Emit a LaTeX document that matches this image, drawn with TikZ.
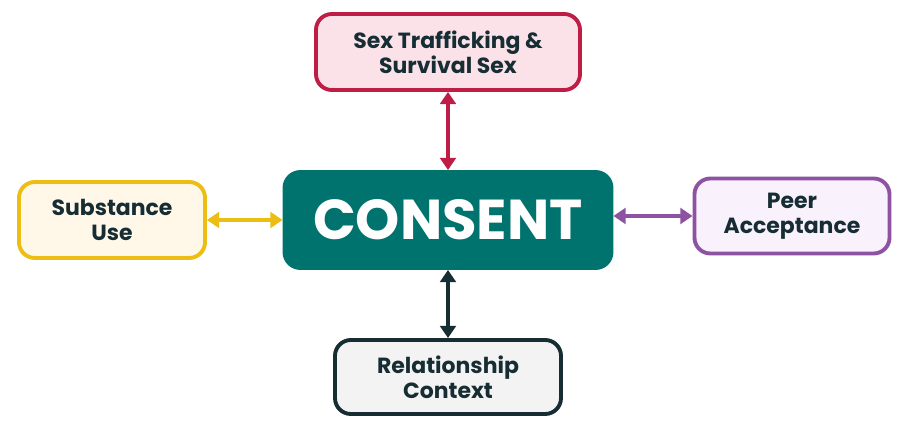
\documentclass[tikz,border=0pt]{standalone}
\usepackage{fontspec}
\setmainfont{Poppins}
\usetikzlibrary{arrows.meta, positioning}
\definecolor{teal1}{RGB}{0,115,110}
\definecolor{crim}{RGB}{190,30,70}
\definecolor{crimbg}{RGB}{251,226,233}
\definecolor{gold}{RGB}{236,190,20}
\definecolor{goldbg}{RGB}{255,248,232}
\definecolor{purp}{RGB}{142,82,162}
\definecolor{purpbg}{RGB}{249,241,252}
\definecolor{dark}{RGB}{22,45,52}
\definecolor{darkbg}{RGB}{243,243,243}

\begin{document}
\begin{tikzpicture}[
        box/.style={rounded corners=9pt, line width=2.2pt, align=center,
            font=\fontsize{12.5}{14}\selectfont\bfseries, text=dark},
        link/.style={line width=2.2pt, {Triangle[length=7pt,width=9pt]}-{Triangle[length=7pt,width=9pt]}}
    ]
        \useasboundingbox (0,0) rectangle (18.06,8.58);
        % centre
        \node [box, fill=teal1, draw=teal1, text=white, minimum width=6.54cm, minimum height=1.92cm,
            font=\fontsize{32}{34}\selectfont\bfseries] (consent) at (8.96,4.18) {CONSENT};
        % outer boxes
        \node [box, fill=crimbg, draw=crim, minimum width=5.28cm, minimum height=1.52cm] (sex) at (8.96,7.54) {Sex Trafficking \&\\Survival Sex};
        \node [box, fill=goldbg, draw=gold, minimum width=3.72cm, minimum height=1.52cm] (sub) at (2.24,4.18) {Substance\\Use};
        \node [box, fill=purpbg, draw=purp, minimum width=3.9cm, minimum height=1.5cm] (peer) at (15.84,4.26) {Peer\\Acceptance};
        \node [box, fill=darkbg, draw=dark, minimum width=4.52cm, minimum height=1.48cm] (rel) at (8.96,1.04) {Relationship\\Context};

        \draw [link, crim] (sex) -- (consent);
        \draw [link, gold] (sub) -- (consent);
        \draw [link, purp] (consent.east |- peer) -- (peer);
        \draw [link, dark] (consent) -- (rel);
    \end{tikzpicture}
\end{document}
